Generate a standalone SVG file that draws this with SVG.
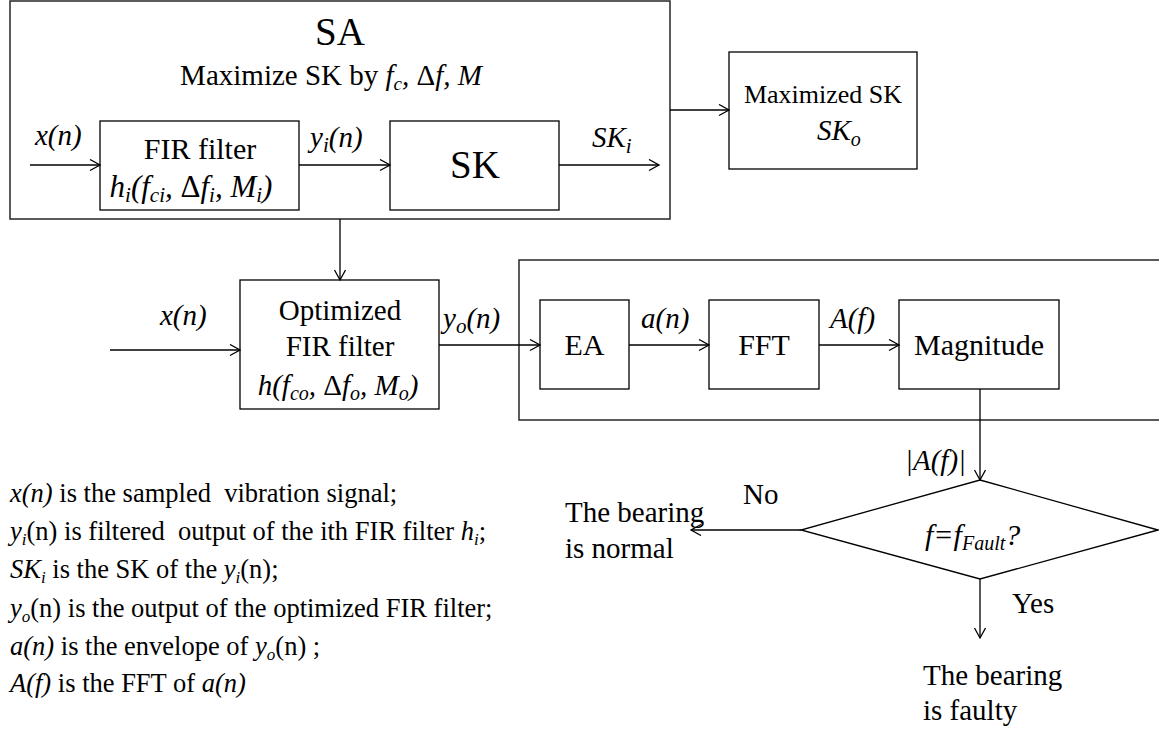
<svg xmlns="http://www.w3.org/2000/svg" width="1159" height="733" viewBox="0 0 1159 733" font-family="'Liberation Serif', 'DejaVu Serif', serif">
<style>
.box{fill:#fff;stroke:#000;stroke-width:1.3}
.frame{fill:none;stroke:#333;stroke-width:1.6}
.ln{fill:none;stroke:#000;stroke-width:1.3}
text{font-family:'Liberation Serif','DejaVu Serif',serif;fill:#000}
.i{font-style:italic}
.c{text-anchor:middle}
.b{font-size:29px}
.lg{font-size:26.5px}
</style>
<defs>
<marker id="ah" markerUnits="userSpaceOnUse" markerWidth="14" markerHeight="14" refX="11" refY="6" orient="auto">
<path d="M1,0.5 L11,6 L1,11.5" fill="none" stroke="#000" stroke-width="1.3"/>
</marker>
</defs>
<rect width="1159" height="733" fill="#fff"/>

<g id="sa">
<rect class="frame" x="10" y="1" width="660" height="218"/>
<text class="c" x="340" y="45" font-size="39">SA</text>
<text class="c" x="331" y="85" font-size="29">Maximize SK by <tspan class="i">f</tspan><tspan class="i" font-size="19" dy="5">c</tspan><tspan class="i" dy="-5">, </tspan>Δ<tspan class="i">f, M</tspan></text>
</g>

<g id="fir">
<rect class="box" x="100" y="121" width="199" height="89"/>
<text class="c" x="200" y="159" font-size="30">FIR filter</text>
<text class="c i" x="191" y="197" font-size="31">h<tspan font-size="21" dy="5">i</tspan><tspan dy="-5">(f</tspan><tspan font-size="21" dy="5">ci</tspan><tspan dy="-5">, </tspan><tspan font-style="normal">Δ</tspan>f<tspan font-size="21" dy="5">i</tspan><tspan dy="-5">, M</tspan><tspan font-size="21" dy="5">i</tspan><tspan dy="-5">)</tspan></text>
</g>

<g id="sk">
<rect class="box" x="390" y="121" width="169" height="89"/>
<text class="c" x="475" y="178" font-size="39">SK</text>
</g>

<g id="maxsk">
<rect class="box" x="729" y="52" width="188" height="117"/>
<text class="c" x="823" y="103" font-size="26">Maximized SK</text>
<text class="b i" x="817" y="140">SK<tspan font-size="20" dy="6">o</tspan></text>
</g>

<g id="optfir">
<rect class="box" x="240" y="280" width="199" height="129"/>
<text class="c b" x="340" y="320">Optimized</text>
<text class="c b" x="340" y="356">FIR filter</text>
<text class="c b i" x="338" y="395">h(f<tspan font-size="20" dy="5">co</tspan><tspan dy="-5">, </tspan><tspan font-style="normal">Δ</tspan>f<tspan font-size="20" dy="5">o</tspan><tspan dy="-5">, M</tspan><tspan font-size="20" dy="5">o</tspan><tspan dy="-5">)</tspan></text>
</g>

<g id="analysis">
<rect class="frame" x="519" y="260" width="660" height="160"/>
</g>

<g id="ea">
<rect class="box" x="540" y="300" width="89" height="89"/>
<text class="c" x="584.5" y="355" font-size="30">EA</text>
</g>

<g id="fft">
<rect class="box" x="709" y="300" width="110" height="89"/>
<text class="c" x="764" y="355" font-size="30">FFT</text>
</g>

<g id="magnitude">
<rect class="box" x="899" y="300" width="160" height="89"/>
<text class="c" x="979" y="355" font-size="30">Magnitude</text>
</g>

<g id="decision">
<polygon class="box" points="980,480 1158,530 980,579 801,530"/>
<text class="i" x="925" y="545" font-size="30">f=f<tspan font-size="20" dy="5">Fault</tspan><tspan dy="-5">?</tspan></text>
</g>

<g id="normal">
<text class="b" x="565" y="522">The bearing</text>
<text class="b" x="565" y="558">is normal</text>
</g>

<g id="faulty">
<text class="b" x="923" y="685">The bearing</text>
<text class="b" x="923" y="720">is faulty</text>
</g>

<g id="connectors">
<path class="ln" marker-end="url(#ah)" d="M30,165 H100"/>
<path class="ln" marker-end="url(#ah)" d="M299,165 H390"/>
<path class="ln" marker-end="url(#ah)" d="M559,165 H659"/>
<path class="ln" marker-end="url(#ah)" d="M670,110 H729"/>
<path class="ln" marker-end="url(#ah)" d="M340,219 V280"/>
<path class="ln" marker-end="url(#ah)" d="M110,350 H240"/>
<path class="ln" marker-end="url(#ah)" d="M439,345 H540"/>
<path class="ln" marker-end="url(#ah)" d="M629,345 H709"/>
<path class="ln" marker-end="url(#ah)" d="M819,345 H899"/>
<path class="ln" marker-end="url(#ah)" d="M980,389 V480"/>
<path class="ln" marker-end="url(#ah)" d="M801,530 H691"/>
<path class="ln" marker-end="url(#ah)" d="M980,579 V638"/>
<text class="b i" x="35" y="145">x(n)</text>
<text class="b i" x="310" y="147">y<tspan font-size="21" dy="5">i</tspan><tspan dy="-5">(n)</tspan></text>
<text class="b i" x="592" y="147">SK<tspan font-size="21" dy="6">i</tspan></text>
<text class="b i" x="160" y="325">x(n)</text>
<text class="b i" x="443" y="328">y<tspan font-size="21" dy="5">o</tspan><tspan dy="-5">(n)</tspan></text>
<text class="b i" x="641" y="328">a(n)</text>
<text class="b i" x="830" y="328">A(f)</text>
<text class="b i" x="905" y="470">|A(f)|</text>
<text class="b" x="743" y="504" font-size="28">No</text>
<text class="b" x="1012" y="613" font-size="28">Yes</text>
</g>

<g id="legend">
<text class="lg" x="10" y="502" xml:space="preserve"><tspan class="i">x(n)</tspan> is the sampled  vibration signal;</text>
<text class="lg" x="10" y="540" xml:space="preserve"><tspan class="i">y</tspan><tspan class="i" font-size="17" dy="5">i</tspan><tspan dy="-5">(n) is filtered  output of the ith FIR filter </tspan><tspan class="i">h</tspan><tspan class="i" font-size="17" dy="5">i</tspan><tspan dy="-5">;</tspan></text>
<text class="lg" x="10" y="578" xml:space="preserve"><tspan class="i">SK</tspan><tspan class="i" font-size="17" dy="5">i</tspan><tspan dy="-5"> is the SK of the </tspan><tspan class="i">y</tspan><tspan class="i" font-size="17" dy="5">i</tspan><tspan dy="-5">(n);</tspan></text>
<text class="lg" x="10" y="617" xml:space="preserve"><tspan class="i">y</tspan><tspan class="i" font-size="17" dy="5">o</tspan><tspan dy="-5">(n) is the output of the optimized FIR filter;</tspan></text>
<text class="lg" x="10" y="655" xml:space="preserve"><tspan class="i">a(n)</tspan> is the envelope of <tspan class="i">y</tspan><tspan class="i" font-size="17" dy="5">o</tspan><tspan dy="-5">(n) ;</tspan></text>
<text class="lg" x="10" y="692" xml:space="preserve"><tspan class="i">A(f)</tspan> is the FFT of <tspan class="i">a(n)</tspan></text>
</g>
</svg>
